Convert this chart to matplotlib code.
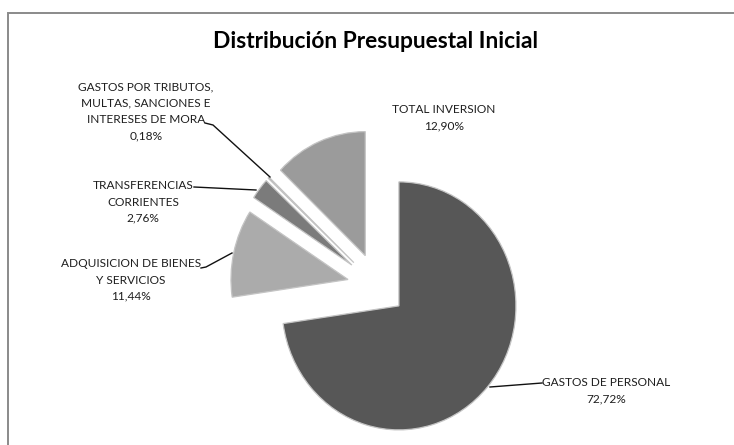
import matplotlib
matplotlib.use("Agg")
import matplotlib.pyplot as plt
from matplotlib.patches import Rectangle

categories = ["GASTOS DE PERSONAL", "ADQUISICION DE BIENES\nY SERVICIOS",
              "TRANSFERENCIAS\nCORRIENTES",
              "GASTOS POR TRIBUTOS,\nMULTAS, SANCIONES E\nINTERESES DE MORA",
              "TOTAL INVERSION"]
values = [72.72, 11.44, 2.76, 0.18, 12.90]
pct_labels = ["72,72%", "11,44%", "2,76%", "0,18%", "12,90%"]
colors = ["#575757", "#ababab", "#7b7b7b", "#6a6a6a", "#9b9b9b"]
explode = [0.24, 0.26, 0.28, 0.28, 0.27]

W, H = 734, 445
fig = plt.figure(figsize=(W / 100, H / 100), dpi=100)
fig.patch.set_facecolor("white")

# pie geometry in pixels
cx, cy, rx, ry = 377.7, 286.4, 117.0, 124.0
ax = fig.add_axes([0, 0, 1, 1])
ax.axis("off")

def P(px, py):
    return ((px - cx) / rx, (cy - py) / ry)

ax.pie(values, colors=colors, explode=explode, startangle=90, counterclock=False,
       wedgeprops=dict(edgecolor="#c4c4c4", linewidth=0.9), radius=1.0, frame=False)
ax.set_xlim(-cx / rx, (W - cx) / rx)
ax.set_ylim((cy - H) / ry, cy / ry)
ax.set_aspect("auto")

# frame
fig.add_artist(Rectangle((8 / W, -0.1), 1.2, (H - 13) / H + 0.1, transform=fig.transFigure,
                         fill=False, edgecolor="#8a8a8a", linewidth=1.4))

fig.text(375 / W, 1 - 42 / H, "Distribución Presupuestal Inicial", ha="center", va="center",
         fontsize=16.4, fontweight="bold", family="Lato", color="#000000")

lab_font = dict(family="Lato", fontsize=8.6, color="#1e1e1e",
                ha="center", va="center", linespacing=1.6)

label_pos = [(606, 391), (131, 280), (143, 202), (146, 111.5), (444, 117.5)]
for cat, pct, (px, py) in zip(categories, pct_labels, label_pos):
    x, y = P(px, py)
    ax.text(x, y, cat + "\n" + pct, **lab_font)

leaders = [
    [(542, 383), (490, 387)],
    [(201, 268), (206, 267), (232, 253)],
    [(194, 187), (256, 190)],
    [(205, 123), (213, 125), (270, 177)],
]
for pts in leaders:
    xs, ys = zip(*[P(a, b) for a, b in pts])
    ax.plot(xs, ys, color="#111111", linewidth=1.0)

fig.savefig("out.png", dpi=100)
